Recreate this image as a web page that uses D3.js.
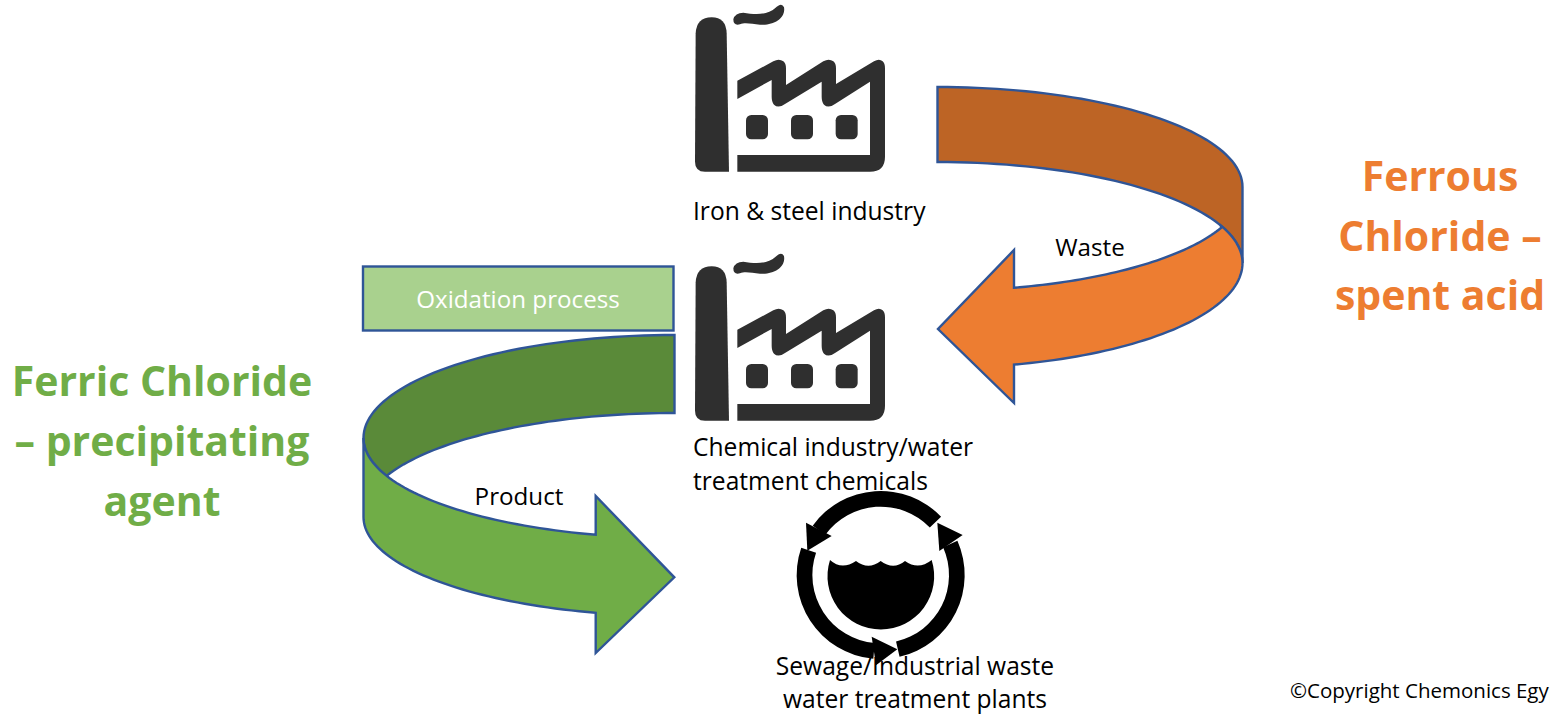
<!DOCTYPE html>
<html>
<head>
<meta charset="utf-8">
<script src="https://cdnjs.cloudflare.com/ajax/libs/d3/7.8.5/d3.min.js"></script>
<style>
html, body { margin: 0; padding: 0; background: #fff; overflow: hidden; }
text { font-family: "Open Sans", Lato, sans-serif; }
</style>
</head>
<body>
<script>
// ------------------------------------------- Diagram content ------------------------------------------ //
var ferrous_lines = ["Ferrous", "Chloride –", "spent acid"];
var ferric_lines = ["Ferric Chloride", "– precipitating", "agent"];
var iron_lines = ["Iron & steel industry"];
var chemical_lines = ["Chemical industry/water", "treatment chemicals"];
var sewage_lines = ["Sewage/Industrial waste", "water treatment plants"];
var process_label = "Oxidation process";
var waste_label = "Waste";
var product_label = "Product";
var copyright_label = "©Copyright Chemonics Egypt";

// ---------------------------------------------- Init SVG ---------------------------------------------- //
var width = 1550, height = 714;
var svg = d3.select("body").append("svg")
    .attr("width", width)
    .attr("height", height)
    .style("display", "block");

var outline = "#2f5597";
var line = d3.line();

// points along an ellipse, t in radians
function ell(e, t0, t1) {
    var n = 48;
    return d3.range(n + 1).map(function(i) {
        var t = t0 + (t1 - t0) * i / n;
        return [e.cx + e.rx * Math.cos(t), e.cy + e.ry * Math.sin(t)];
    });
}
// angle on the ellipse where it reaches x
function tx(e, x) { return Math.acos((x - e.cx) / e.rx); }

function shape(pts, fill) {
    svg.append("path")
        .attr("d", line(pts) + "Z")
        .attr("fill", fill)
        .attr("stroke", outline)
        .attr("stroke-width", 2.4);
}

// -------------------------------------------- Orange arrow -------------------------------------------- //
function draw_orange() {
    var e1 = {cx: 937.5, cy: 187, rx: 305, ry: 100},
        e2 = {cx: 937.5, cy: 263, rx: 305, ry: 101},
        e3 = {cx: 937.5, cy: 191, rx: 305, ry: 100},
        e4 = {cx: 937.5, cy: 263, rx: 305, ry: 105};
    var neck = 1014, cross = 1221;
    shape(ell(e1, -Math.PI / 2, 0).concat(ell(e2, 0, -Math.PI / 2)), "#bd6425");
    shape(ell(e2, 0, -tx(e2, cross))
        .concat(ell(e3, tx(e3, cross), tx(e3, neck)))
        .concat([[neck, 250], [938, 329], [neck, 403]])
        .concat(ell(e4, tx(e4, neck), 0)), "#ed7d31");
}

// --------------------------------------------- Green arrow -------------------------------------------- //
function draw_green() {
    var g1 = {cx: 674.5, cy: 438, rx: 311, ry: 103},
        g2 = {cx: 674.5, cy: 438, rx: 311, ry: 100},
        g3 = {cx: 674.5, cy: 514, rx: 311, ry: 101},
        g4 = {cx: 674.5, cy: 517, rx: 311, ry: 99};
    var neck = 595.7, cross = 387;
    shape(ell(g1, -Math.PI / 2, -Math.PI)
        .concat(ell(g2, Math.PI, tx(g2, cross)))
        .concat(ell(g3, -tx(g3, cross), -Math.PI / 2)), "#5a8a39");
    shape(ell(g2, Math.PI, tx(g2, neck))
        .concat([[neck, 496], [674.3, 577.3], [neck, 653]])
        .concat(ell(g4, tx(g4, neck), Math.PI)), "#70ad47");
}

// ----------------------------------------------- Icons ------------------------------------------------ //
// icon paths are traced at 3x, hence the scale(1/3)
function draw_factory(x, y) {
    var f = svg.append("g")
        .attr("transform", "translate(" + x + "," + y + ") scale(" + (1 / 3) + ")")
        .attr("fill", "#2f2f2f");
    f.append("path").attr("d", "M47,100 Q50,52 95,52 Q138,52 140,100 L147,515 L75,515 Q45,515 45,485 Z");
    f.append("path").attr("d", "M160,58 Q165,38 190,38 C225,44 265,45 285,25 Q305,5 312,22 C318,55 280,78 240,74 C215,72 195,66 180,73 Q160,78 160,58 Z");
    f.append("path").attr("d", "M172,242 L280,184 Q297,174 310,184 Q318,190 318,205 L318,255 L430,184 Q447,174 460,184 Q468,190 468,205 L468,252 L582,184 Q598,174 608,184 Q615,190 615,205 L615,470 Q615,515 570,515 L172,515 L172,465 L570,465 L570,245 L465,312 Q445,326 432,314 Q425,306 425,290 L425,245 L315,312 Q295,326 282,314 Q275,306 275,290 L275,240 L172,297 Z");
    f.selectAll("rect")
        .data([198, 333, 467])
        .enter().append("rect")
            .attr("x", function(d) { return d; })
            .attr("y", 345)
            .attr("width", 66)
            .attr("height", 73)
            .attr("rx", 16);
}

function draw_cycle(x, y) {
    var c = svg.append("g")
        .attr("transform", "translate(" + x + "," + y + ") scale(" + (1 / 3) + ")")
        .attr("fill", "#000");
    var rad = Math.PI / 180;
    var ring = d3.arc().innerRadius(205).outerRadius(252);
    var ring_g = c.append("g").attr("transform", "translate(302,285)");
    [[-54, 46], [66, 167], [185, 289]].forEach(function(a) {
        ring_g.append("path").attr("d", ring({startAngle: a[0] * rad, endAngle: a[1] * rad}));
    });
    [
        [[82, 212], [78, 128], [155, 168]],
        [[472, 128], [548, 165], [478, 213]],
        [[352, 508], [275, 470], [288, 556]]
    ].forEach(function(p) {
        c.append("path").attr("d", line(p) + "Z");
    });
    c.append("path").attr("d", "M150,240 Q185,272 228,243 Q265,272 302,243 Q340,272 375,243 Q415,272 455,240 A160,160 0 1 1 150,240 Z");
}

// ----------------------------------------------- Labels ----------------------------------------------- //
function draw_lines(lines, x, y, dy, size, fill, anchor, weight) {
    svg.append("g").selectAll("text")
        .data(lines)
        .enter().append("text")
            .attr("x", x)
            .attr("y", function(d, i) { return y + i * dy; })
            .attr("font-size", size)
            .attr("font-weight", weight || 400)
            .attr("text-anchor", anchor)
            .attr("fill", fill)
            .text(function(d) { return d; });
}

function draw() {
    draw_orange();
    draw_green();

    svg.append("rect")
        .attr("x", 363)
        .attr("y", 266.5)
        .attr("width", 310.5)
        .attr("height", 64)
        .attr("fill", "#a9d18e")
        .attr("stroke", outline)
        .attr("stroke-width", 2.4);

    draw_factory(680, 0);
    draw_factory(680, 249);
    draw_cycle(780, 480);

    draw_lines(ferrous_lines, 1440, 191, 59.5, 41, "#ed7d31", "middle", 700);
    draw_lines(ferric_lines, 162, 396, 60, 41, "#70ad47", "middle", 700);
    draw_lines(iron_lines, 693, 220, 34, 24.6, "#000", "start");
    draw_lines(chemical_lines, 693, 456, 34, 24.6, "#000", "start");
    draw_lines(sewage_lines, 915, 675, 33, 24.6, "#000", "middle");
    draw_lines([process_label], 518, 308, 0, 24.2, "#fff", "middle");
    draw_lines([waste_label], 1090, 256, 0, 24.2, "#000", "middle");
    draw_lines([product_label], 519, 505, 0, 24.2, "#000", "middle");
    draw_lines([copyright_label], 1290, 698, 0, 20.5, "#000", "start");
}

draw();
</script>
</body>
</html>
